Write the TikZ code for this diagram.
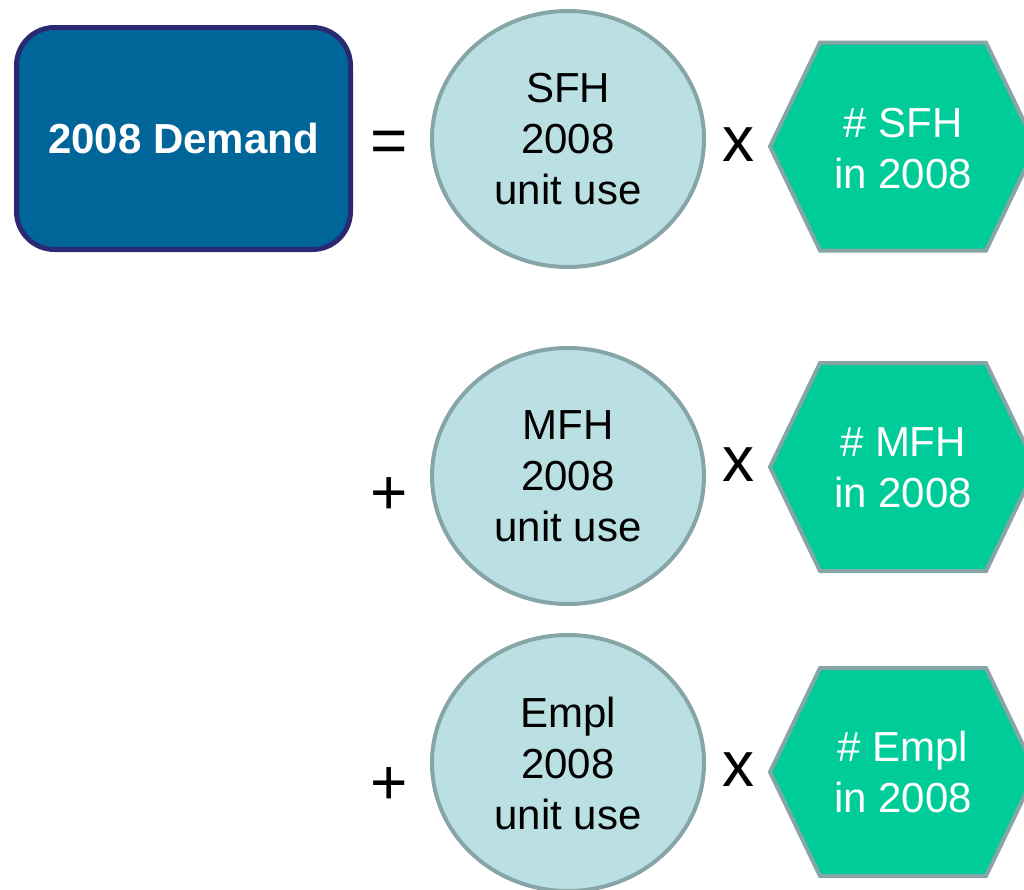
\documentclass[tikz,border=0pt]{standalone}
\usepackage{fontspec}
\setmainfont{Liberation Sans}
\usetikzlibrary{shapes.geometric}
\definecolor{rectfill}{HTML}{006699}
\definecolor{rectline}{HTML}{2A2A72}
\definecolor{ellfill}{HTML}{BAE0E3}
\definecolor{grayline}{HTML}{87A5A7}
\definecolor{hexfill}{HTML}{00CC99}
\begin{document}
\begin{tikzpicture}[x=1pt,y=-1pt,
  body/.style={font=\fontsize{42}{51}\selectfont, align=center},
  usebox/.style={ellipse, draw=grayline, fill=ellfill, line width=4pt,
    minimum width=272pt, minimum height=256pt, inner sep=0pt, body},
  hexline/.style={draw=grayline, fill=hexfill, line width=4pt, line join=miter},
  hextext/.style={body, text=white, inner sep=0pt},
  opsym/.style={font=\fontsize{64}{64}\selectfont, inner sep=0pt},
  timessym/.style={font=\fontsize{64}{64}\selectfont, inner sep=0pt}]
\useasboundingbox (0,0) rectangle (1024,889);
\clip (0,0) rectangle (1024,889);
% left box
\node[draw=rectline, fill=rectfill, line width=5pt, rounded corners=38pt,
  minimum width=334pt, minimum height=222pt, inner sep=0pt,
  font=\fontsize{42}{51}\selectfont\bfseries, text=white] (demand) at (183.5,138.5) {2008 Demand};
% ellipses
\node[usebox] (sfhuse) at (568,139) {SFH\\2008\\unit use};
\node[usebox] (mfhuse) at (568,476) {MFH\\2008\\unit use};
\node[usebox] (empluse) at (568,763) {Empl\\2008\\unit use};
% hexagons
\draw[hexline] (770,146.5) -- (820,42.5) -- (986,42.5) -- (1036,146.5) -- (986,250.5) -- (820,250.5) -- cycle;
\draw[hexline] (770,467) -- (820,363) -- (986,363) -- (1036,467) -- (986,571) -- (820,571) -- cycle;
\draw[hexline] (770,772) -- (820,668) -- (986,668) -- (1036,772) -- (986,876) -- (820,876) -- cycle;
\node[hextext] (sfhnum) at (903,149) {\# SFH\\in 2008};
\node[hextext] (mfhnum) at (903,468) {\# MFH\\in 2008};
\node[hextext] (emplnum) at (903,772) {\# Empl\\in 2008};
% operators
\node[opsym] (eq) at (389.5,146.5) {=};
\node[timessym] (x1) at (738,145) {x};
\node[timessym] (x2) at (738,465) {x};
\node[timessym] (x3) at (738,770) {x};
\node[opsym] (p2) at (389.5,496) {+};
\node[opsym] (p3) at (389.5,786) {+};
\end{tikzpicture}
\end{document}
